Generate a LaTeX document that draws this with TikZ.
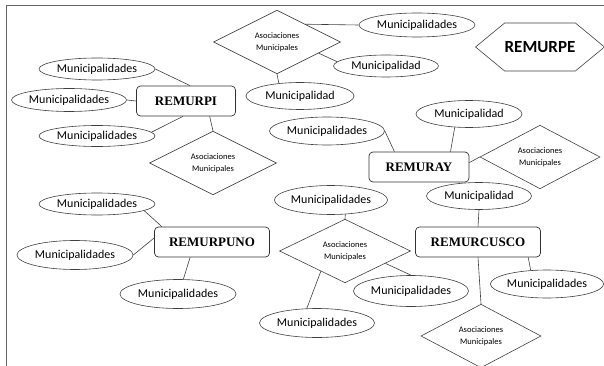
\documentclass[tikz,border=0pt]{standalone}
\usepackage{fontspec}
\setmainfont{Carlito}
\newfontfamily\timesfont{Liberation Serif}
\usetikzlibrary{shapes.geometric,shapes.symbols}

\begin{document}
\begin{tikzpicture}[x=1pt, y=-1pt,
    mun/.style={ellipse, draw=black!75, line width=0.6pt, inner sep=0pt, font=\fontsize{12}{14}\selectfont},
    asoc/.style={diamond, draw=black!75, line width=0.6pt, inner sep=0pt, align=center, font=\fontsize{8.5}{12}\selectfont},
    redbox/.style={rectangle, rounded corners=4pt, draw=black!80, line width=0.7pt, minimum height=30pt, font=\timesfont\bfseries\fontsize{13}{15}\selectfont},
    enlace/.style={draw=black!75, line width=0.6pt}]
    \useasboundingbox (0,0) rectangle (604,366);

    % Marco
    \draw[black!60, line width=0.8pt] (604,5) -- (6,5) -- (6,366);

    % REMURPE
    \node[signal, signal to=east and west, signal pointer angle=79, draw=black!75, line width=0.6pt,
          minimum width=127pt, minimum height=48pt, inner sep=0pt,
          font=\bfseries\fontsize{17}{19}\selectfont] (rpe) at (540,47) {REMURPE};

    % Asociaciones de arriba
    \node[asoc, minimum width=127pt, minimum height=57pt] (as1) at (277,42) {Asociaciones\\Municipales};
    \node[mun, minimum width=116pt, minimum height=24pt] (mtop1) at (417,25) {Municipalidades};
    \node[mun, minimum width=105pt, minimum height=22pt] (mtop2) at (386,66) {Municipalidad};
    \node[mun, minimum width=108pt, minimum height=27pt] (mtop3) at (300,96) {Municipalidad};
    \draw[enlace] (as1.32) -- (mtop1.west);
    \draw[enlace] (as1.-15) -- (mtop2.175);
    \draw[enlace] (as1.south) -- (mtop3.149);

    % REMURPI
    \node[redbox, minimum width=99pt] (rpi) at (186,101) {REMURPI};
    \node[mun, minimum width=116pt, minimum height=22pt] (mpi1) at (97,69) {Municipalidades};
    \node[mun, minimum width=115pt, minimum height=23pt] (mpi2) at (69,100) {Municipalidades};
    \node[mun, minimum width=116pt, minimum height=21pt] (mpi3) at (97,136) {Municipalidades};
    \node[asoc, minimum width=127pt, minimum height=58pt] (as2) at (213,163) {Asociaciones\\Municipales};
    \draw[enlace] (mpi1.east) -- (rpi.75);
    \draw[enlace] (mpi2.east) -- (rpi.west);
    \draw[enlace] (mpi3.4) -- (rpi.259);
    \draw[enlace] (rpi.-33) -- (as2.north);

    % REMURAY
    \node[redbox, minimum width=100pt] (ray) at (419,167) {REMURAY};
    \node[mun, minimum width=115pt, minimum height=28pt] (mray1) at (327,131) {Municipalidades};
    \node[mun, minimum width=106pt, minimum height=27pt] (mray2) at (469,114) {Municipalidad};
    \node[asoc, minimum width=120pt, minimum height=55pt] (as3) at (540,157) {Asociaciones\\Municipales};
    \draw[enlace] (mray1.east) -- (ray.148);
    \draw[enlace] (mray2.-137) -- (ray.26);
    \draw[enlace] (ray.5) -- (as3.west);

    % REMURPUNO
    \node[redbox, minimum width=115pt] (rpuno) at (212,242) {REMURPUNO};
    \node[mun, minimum width=116pt, minimum height=22pt] (mpu1) at (97,204) {Municipalidades};
    \node[mun, minimum width=116pt, minimum height=29pt] (mpu2) at (75,255) {Municipalidades};
    \node[mun, minimum width=116pt, minimum height=29pt] (mpu3) at (178,294) {Municipalidades};
    \draw[enlace] (mpu1.-8) -- (rpuno.163);
    \draw[enlace] (mpu2.east) -- (rpuno.176);
    \draw[enlace] (rpuno.-145) -- (mpu3.70);

    % Asociaciones del medio
    \node[asoc, minimum width=131pt, minimum height=59pt] (as4) at (345,251) {Asociaciones\\Municipales};
    \node[mun, minimum width=110pt, minimum height=29pt] (mmid1) at (331,200) {Municipalidades};
    \node[mun, minimum width=115pt, minimum height=29pt] (mmid2) at (317,323) {Municipalidades};
    \node[mun, minimum width=115pt, minimum height=31pt] (mmid3) at (411,291) {Municipalidades};
    \draw[enlace] (mmid1.-45) -- (as4.north);
    \draw[enlace] (as4.220) -- (mmid2.125);
    \draw[enlace] (as4.-17) -- (mmid3.north);

    % REMURCUSCO
    \node[redbox, minimum width=125pt] (rcusco) at (478,242) {REMURCUSCO};
    \node[mun, minimum width=105pt, minimum height=27pt] (mcu1) at (479,196) {Municipalidad};
    \node[mun, minimum width=113pt, minimum height=28pt] (mcu2) at (547,284) {Municipalidades};
    \node[asoc, minimum width=120pt, minimum height=58pt] (as5) at (481,336) {Asociaciones\\Municipales};
    \draw[enlace] (mcu1.south) -- (rcusco.north);
    \draw[enlace] (rcusco.-17) -- (mcu2.140);
    \draw[enlace] (rcusco.south) -- (as5.north);

\end{tikzpicture}
\end{document}
